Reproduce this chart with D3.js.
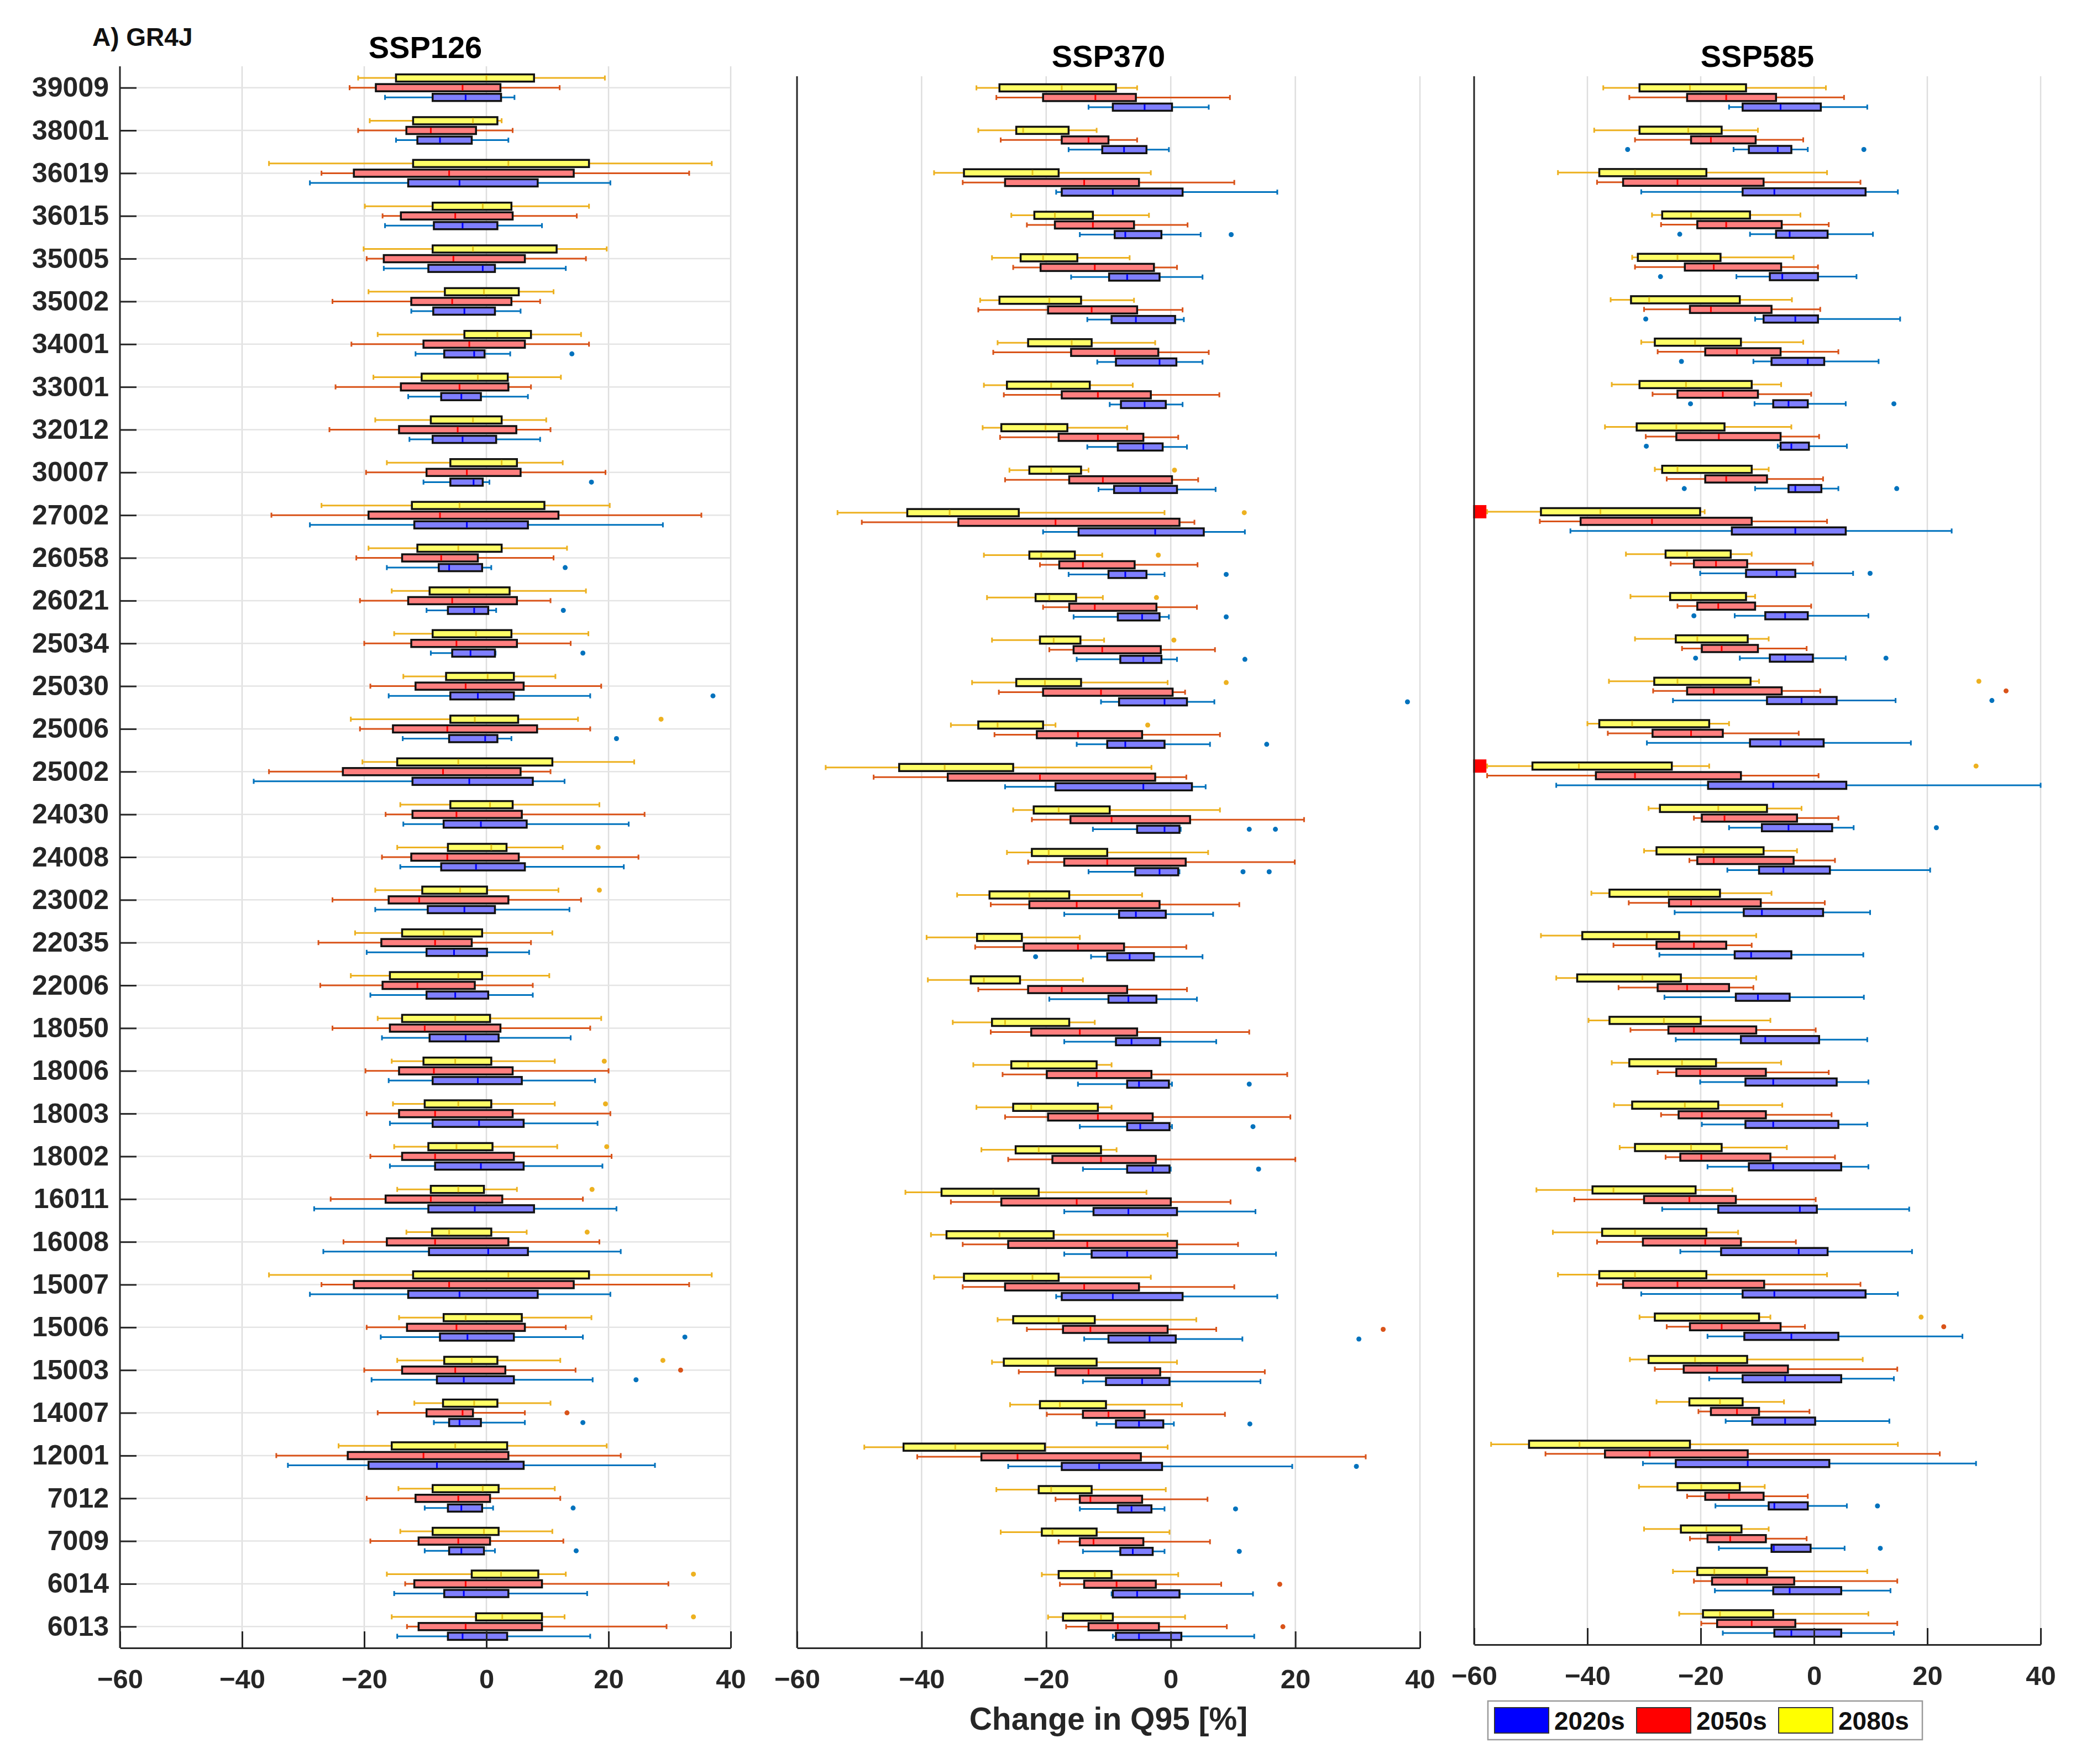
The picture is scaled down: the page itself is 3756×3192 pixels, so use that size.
<!DOCTYPE html>
<html><head><meta charset="utf-8">
<script src="https://cdn.jsdelivr.net/npm/d3@7"></script>
<style>body{margin:0;background:#fff}svg{display:block}</style>
</head><body>
<svg id="c" width="3756" height="3192"></svg>
<script>
// ---------- DATA ----------
const stations = ["39009","38001","36019","36015","35005","35002","34001","33001","32012","30007","27002","26058","26021","25034","25030","25006","25002","24030","24008","23002","22035","22006","18050","18006","18003","18002","16011","16008","15007","15006","15003","14007","12001","7012","7009","6014","6013"];
const periods = ["2080s","2050s","2020s"]; // top -> bottom inside each station row
const scenarios = ["SSP126","SSP370","SSP585"];
const xTicks = [-60,-40,-20,0,20,40];
// each entry: [lower whisker, Q1, median, Q3, upper whisker]
const ssp126_2080s = [[-21.0,-14.8,0.0,7.8,19.4],[-19.1,-12.0,-2.2,1.8,2.5],[-35.6,-12.0,3.6,16.8,36.9],[-19.9,-8.8,-0.6,4.1,16.8],[-20.1,-8.8,-2.2,11.5,19.7],[-19.3,-6.8,-0.4,5.3,11.0],[-17.8,-3.6,1.8,7.3,15.5],[-18.5,-10.6,-1.4,3.5,12.2],[-18.2,-9.1,-2.2,2.5,9.8],[-16.3,-5.9,2.5,5.0,12.5],[-27.0,-12.2,-4.4,9.5,20.2],[-19.3,-11.3,-4.6,2.5,13.2],[-15.5,-9.3,-2.8,3.8,16.3],[-15.1,-8.8,-1.7,4.1,16.7],[-13.6,-6.6,0.2,4.5,11.3],[-22.2,-5.9,-1.9,5.2,15.0],[-20.3,-14.6,-4.6,10.8,24.2],[-14.1,-5.9,0.6,4.3,18.5],[-14.6,-6.3,0.8,3.3,12.5],[-18.2,-10.5,-4.3,0.1,11.8],[-21.5,-13.8,-7.0,-0.7,10.8],[-22.2,-15.8,-4.6,-0.7,10.3],[-17.8,-13.8,-5.1,0.6,18.8],[-15.5,-10.3,-5.1,0.8,11.2],[-15.3,-10.1,-4.6,0.8,11.2],[-15.1,-9.5,-4.9,1.0,11.6],[-14.6,-9.1,-4.6,-0.4,5.0],[-13.1,-8.9,-6.1,0.8,6.6],[-35.6,-12.0,3.6,16.8,36.9],[-14.3,-7.0,-3.4,5.8,17.2],[-14.6,-6.9,-2.4,1.8,12.1],[-11.8,-7.1,-2.0,1.8,10.5],[-24.2,-15.5,-5.1,3.4,19.7],[-14.4,-8.8,-0.6,2.0,11.2],[-14.1,-8.8,-0.4,2.0,10.8],[-16.3,-2.4,2.4,8.5,13.0],[-15.5,-1.7,2.6,9.1,12.8]];
const ssp126_2050s = [[-22.4,-18.1,-3.9,2.3,12.0],[-21.0,-13.1,-9.1,-1.7,4.3],[-27.0,-21.7,-6.1,14.3,33.2],[-17.0,-14.0,-5.1,4.3,14.8],[-19.6,-16.8,-5.4,6.3,16.3],[-25.2,-12.3,-5.6,4.1,8.8],[-22.1,-10.3,-2.8,6.3,16.8],[-24.7,-14.0,-4.4,3.6,7.3],[-25.7,-14.3,-4.7,4.9,10.5],[-19.7,-9.8,-3.2,5.6,19.5],[-35.2,-19.3,-7.6,11.8,35.2],[-21.3,-13.8,-7.4,-1.4,11.0],[-20.7,-12.8,-5.6,5.0,10.5],[-20.0,-12.3,-4.9,5.0,13.8],[-19.0,-11.6,-3.4,6.1,18.8],[-20.7,-15.3,-6.4,8.3,17.0],[-35.6,-23.5,-7.1,5.6,10.5],[-16.5,-12.1,-4.9,5.8,25.9],[-17.1,-12.3,-6.4,5.3,24.9],[-25.2,-16.0,-11.0,3.6,15.5],[-27.5,-17.2,-8.4,-2.4,7.3],[-27.2,-17.0,-11.3,-1.9,7.6],[-25.2,-15.8,-10.1,2.3,17.0],[-19.8,-14.3,-8.6,4.3,20.0],[-19.6,-14.3,-8.4,4.3,20.3],[-19.0,-13.8,-8.4,4.5,20.5],[-25.5,-16.5,-9.1,2.6,15.8],[-23.4,-16.3,-8.4,3.6,18.5],[-27.0,-21.7,-6.1,14.3,33.2],[-19.6,-13.0,-4.9,6.3,13.0],[-20.0,-13.8,-5.1,3.1,14.6],[-17.8,-9.8,-3.9,-2.2,6.3],[-34.4,-22.7,-10.3,3.6,22.0],[-19.6,-11.6,-4.6,0.6,12.1],[-19.0,-11.1,-4.6,0.6,12.6],[-13.3,-11.8,-3.4,9.1,29.8],[-13.0,-11.1,-3.4,9.1,29.5]];
const ssp126_2020s = [[-16.6,-8.8,-3.4,2.4,4.6],[-14.8,-11.3,-7.6,-2.4,3.6],[-28.9,-12.8,-4.4,8.4,20.3],[-16.6,-8.6,-3.9,1.8,9.1],[-16.8,-9.5,-0.6,1.4,13.0],[-12.3,-8.7,-3.6,1.4,5.6],[-11.6,-6.9,-2.0,-0.3,3.9],[-12.8,-7.4,-4.1,-0.9,6.8],[-12.6,-8.8,-3.9,1.6,8.8],[-10.3,-5.9,-2.1,-0.6,0.5],[-28.9,-11.8,-3.2,6.8,28.9],[-16.3,-7.8,-6.1,-0.7,0.8],[-9.8,-6.3,-2.0,0.3,1.6],[-9.1,-5.6,-2.6,1.4,1.5],[-16.0,-5.9,-1.4,4.5,17.0],[-13.7,-6.1,-0.2,1.8,4.1],[-38.1,-12.1,-2.8,7.6,12.8],[-13.6,-7.0,-0.9,6.6,23.3],[-14.1,-7.4,-1.7,6.3,22.5],[-18.2,-9.6,-3.6,1.4,13.6],[-19.6,-9.8,-5.3,0.1,7.0],[-19.0,-9.8,-5.1,0.3,7.6],[-17.1,-9.3,-3.4,2.0,13.8],[-16.0,-8.8,-1.4,5.8,17.8],[-15.8,-8.8,-1.2,6.1,18.2],[-15.8,-8.4,-0.9,6.1,19.0],[-28.2,-9.5,-1.9,7.8,21.3],[-26.7,-9.4,0.3,6.8,22.0],[-28.9,-12.8,-4.4,8.4,20.3],[-17.3,-7.6,-3.1,4.5,15.8],[-18.8,-8.1,-3.7,4.5,17.4],[-8.6,-6.1,-4.4,-0.9,6.3],[-32.5,-19.3,-8.1,6.1,27.6],[-10.1,-6.3,-4.1,-0.7,1.1],[-10.1,-6.1,-4.1,-0.4,1.4],[-15.1,-6.9,-3.7,3.6,16.5],[-14.6,-6.3,-3.9,3.4,17.0]];
const ssp370_2080s = [[-31.2,-27.5,-17.5,-8.8,-5.4],[-30.9,-24.8,-23.7,-16.4,-11.9],[-38.0,-33.2,-22.2,-18.0,-3.2],[-25.6,-21.9,-18.6,-12.5,-3.5],[-28.7,-24.1,-20.5,-15.0,-6.6],[-30.6,-27.5,-19.5,-14.4,-5.9],[-27.8,-22.9,-15.9,-12.7,-2.5],[-30.0,-26.3,-19.2,-13.0,-6.1],[-30.2,-27.2,-20.1,-16.6,-7.0],[-25.9,-22.7,-19.2,-14.4,-13.2],[-53.5,-42.3,-35.5,-24.4,-1.0],[-30.0,-22.7,-20.8,-15.4,-11.0],[-29.5,-21.7,-19.5,-15.2,-10.9],[-28.7,-21.0,-18.8,-14.5,-10.7],[-31.9,-24.8,-20.2,-14.4,-0.5],[-35.3,-30.9,-27.8,-20.5,-18.5],[-55.4,-43.6,-36.3,-25.3,-3.1],[-25.3,-22.0,-18.0,-9.8,7.9],[-26.3,-22.3,-19.6,-10.2,6.0],[-34.3,-29.1,-22.7,-16.3,-4.6],[-39.2,-31.1,-30.0,-23.9,-14.6],[-39.0,-32.1,-30.0,-24.2,-14.1],[-35.0,-28.7,-26.6,-16.3,-12.2],[-31.7,-25.6,-22.9,-11.9,-9.5],[-31.2,-25.3,-22.4,-11.7,-9.5],[-30.4,-24.9,-21.2,-11.2,-8.7],[-42.6,-36.8,-28.5,-21.2,-3.9],[-38.5,-36.0,-27.5,-18.8,-0.5],[-38.0,-33.2,-22.2,-18.0,-3.2],[-27.8,-25.3,-18.0,-12.2,4.1],[-28.7,-26.8,-19.7,-11.9,1.0],[-25.8,-21.0,-17.8,-10.4,1.8],[-49.2,-42.9,-34.6,-20.2,-0.5],[-28.0,-21.2,-19.2,-12.7,-0.8],[-27.3,-20.7,-19.0,-11.9,-0.2],[-20.7,-18.0,-12.2,-9.5,1.2],[-19.7,-17.3,-11.2,-9.3,2.3]];
const ssp370_2050s = [[-28.0,-20.5,-12.1,-5.6,9.5],[-27.3,-17.5,-13.2,-10.0,-5.4],[-33.4,-26.6,-13.9,-5.1,10.2],[-23.1,-18.6,-12.5,-5.9,2.7],[-25.3,-20.9,-12.2,-2.7,1.0],[-30.9,-19.7,-12.7,-5.4,1.9],[-28.5,-16.0,-9.0,-2.0,6.1],[-26.8,-17.5,-11.7,-3.2,7.8],[-27.4,-18.0,-11.7,-4.4,1.2],[-26.6,-16.3,-10.9,0.2,4.4],[-49.6,-34.1,-18.5,1.4,3.8],[-21.0,-17.9,-14.1,-5.8,4.3],[-20.5,-16.3,-12.2,-2.3,4.2],[-19.5,-15.6,-11.0,-1.6,7.1],[-27.6,-20.5,-11.2,0.3,2.3],[-28.3,-21.5,-14.9,-4.6,7.9],[-47.7,-35.8,-21.0,-2.5,2.5],[-22.3,-16.1,-9.5,3.1,21.4],[-22.9,-17.1,-10.2,2.4,19.9],[-28.9,-22.7,-15.1,-1.8,11.0],[-31.4,-23.6,-14.9,-7.5,2.5],[-30.9,-22.9,-17.5,-7.0,2.6],[-28.9,-22.4,-14.6,-5.4,12.6],[-27.0,-19.9,-11.9,-3.1,18.7],[-26.6,-19.7,-11.7,-2.9,19.2],[-26.1,-19.0,-11.2,-2.4,20.0],[-35.3,-27.2,-15.1,0.0,9.6],[-33.4,-26.1,-13.4,1.0,10.8],[-33.4,-26.6,-13.9,-5.1,10.2],[-23.1,-17.3,-12.9,-0.5,7.3],[-24.4,-18.5,-13.2,-1.7,15.1],[-19.9,-14.1,-10.0,-4.2,8.7],[-40.7,-30.4,-24.6,-4.8,31.3],[-18.5,-14.6,-12.9,-4.6,5.9],[-18.0,-14.6,-12.4,-4.4,6.3],[-17.8,-13.9,-8.7,-2.4,8.1],[-16.8,-13.2,-8.5,-1.9,9.0]];
const ssp370_2020s = [[-13.2,-9.3,-4.2,0.2,6.1],[-16.4,-11.0,-7.5,-3.9,-0.3],[-18.4,-17.5,-9.3,1.9,17.1],[-14.6,-9.0,-7.3,-1.5,4.8],[-16.0,-9.9,-7.0,-1.8,5.1],[-13.4,-9.5,-5.6,0.7,2.1],[-11.8,-8.8,-1.8,0.9,5.1],[-9.8,-8.0,-4.2,-0.8,1.9],[-13.4,-8.5,-4.4,-1.3,2.6],[-11.6,-9.1,-4.9,1.0,7.2],[-20.5,-14.8,-2.5,5.3,11.9],[-16.4,-10.0,-7.3,-3.9,-1.0],[-15.6,-8.5,-4.6,-1.8,-0.3],[-15.1,-8.1,-4.4,-1.5,1.0],[-11.2,-8.3,-1.0,2.6,7.0],[-15.1,-10.2,-7.3,-1.0,6.3],[-26.6,-18.5,-4.4,3.4,5.6],[-12.5,-5.4,-1.0,1.4,1.6],[-13.2,-5.7,-1.8,1.2,1.4],[-17.1,-8.3,-5.6,-0.8,6.8],[-12.8,-10.2,-6.6,-2.7,5.1],[-19.5,-10.0,-6.8,-2.3,4.2],[-17.1,-8.8,-6.3,-1.7,7.3],[-14.9,-7.0,-5.1,-0.3,0.2],[-14.6,-7.0,-4.9,-0.2,0.2],[-14.1,-7.0,-2.9,-0.2,0.0],[-17.1,-12.4,-6.8,1.0,13.6],[-17.1,-12.7,-7.0,1.0,16.9],[-18.4,-17.5,-9.3,1.9,17.1],[-13.9,-10.0,-3.4,0.8,11.5],[-14.1,-10.4,-4.6,-0.2,14.4],[-11.9,-8.8,-5.1,-1.2,0.5],[-26.1,-17.5,-11.5,-1.4,19.5],[-14.6,-8.5,-6.3,-3.1,-1.0],[-14.1,-8.1,-6.1,-2.9,-1.0],[-9.5,-9.3,-5.4,1.4,13.2],[-9.3,-8.8,-5.1,1.7,13.4]];
const ssp585_2080s = [[-37.2,-30.8,-21.9,-12.0,2.1],[-38.8,-30.8,-22.2,-16.3,-9.9],[-45.2,-37.9,-31.6,-19.0,2.3],[-28.6,-26.8,-21.7,-11.3,-2.4],[-32.1,-31.1,-24.1,-16.5,-3.6],[-35.9,-32.3,-29.1,-13.1,-3.9],[-30.5,-28.1,-21.0,-12.9,-1.9],[-35.7,-30.8,-22.6,-11.0,-5.8],[-36.9,-31.3,-24.3,-15.8,-4.0],[-28.1,-26.8,-24.1,-11.0,-8.0],[-57.7,-48.2,-37.7,-20.1,-19.3],[-33.2,-26.2,-22.4,-14.7,-11.0],[-32.4,-25.4,-21.7,-12.0,-10.4],[-31.6,-24.4,-20.6,-11.7,-8.0],[-36.2,-28.2,-24.1,-11.2,-9.7],[-40.0,-37.9,-32.1,-18.5,-15.0],[-57.7,-49.7,-41.5,-25.1,-18.5],[-29.2,-27.2,-16.9,-8.3,-2.2],[-30.0,-27.8,-19.5,-8.9,-3.0],[-39.3,-36.1,-25.7,-16.6,-7.5],[-48.2,-40.9,-29.5,-23.8,-10.2],[-45.5,-41.8,-30.3,-23.5,-10.2],[-39.8,-36.1,-26.5,-20.0,-7.7],[-35.7,-32.6,-23.3,-17.3,-5.8],[-35.3,-32.1,-22.8,-16.9,-5.6],[-34.3,-31.6,-21.7,-16.3,-4.8],[-49.0,-39.1,-35.4,-20.9,-14.4],[-46.1,-37.4,-31.6,-19.0,-13.4],[-45.2,-37.9,-31.6,-19.0,2.3],[-30.8,-28.1,-20.1,-9.7,-7.7],[-32.5,-29.2,-21.0,-11.8,8.6],[-27.8,-22.0,-16.6,-12.6,-5.3],[-57.0,-50.3,-41.4,-21.9,14.8],[-30.9,-24.1,-19.9,-13.1,-8.7],[-30.0,-23.5,-19.0,-12.8,-8.0],[-24.9,-20.6,-17.6,-8.3,9.4],[-23.8,-19.6,-16.6,-7.2,9.6]];
const ssp585_2050s = [[-32.6,-22.4,-15.5,-6.7,5.3],[-31.6,-21.7,-18.2,-10.3,-1.9],[-38.3,-33.7,-24.1,-8.9,8.2],[-27.0,-20.6,-15.5,-5.7,2.6],[-31.6,-22.8,-17.7,-5.8,0.7],[-30.0,-21.9,-18.2,-7.5,1.1],[-27.6,-19.2,-13.6,-5.9,4.3],[-28.5,-24.1,-16.1,-9.9,-0.5],[-29.7,-24.3,-16.8,-5.9,0.9],[-26.0,-19.2,-15.5,-8.3,1.6],[-48.4,-41.2,-28.6,-11.0,2.3],[-25.3,-21.2,-17.3,-11.8,-0.2],[-24.1,-20.6,-16.9,-10.4,-0.5],[-23.3,-19.8,-16.3,-9.9,-1.3],[-28.4,-22.4,-17.7,-5.7,1.1],[-36.4,-28.5,-21.7,-16.1,-2.7],[-57.7,-38.5,-31.6,-12.9,0.8],[-21.2,-19.8,-15.8,-3.0,4.3],[-22.0,-20.6,-17.7,-3.6,3.7],[-32.7,-25.6,-21.7,-9.4,1.9],[-35.4,-27.8,-21.2,-15.5,-11.0],[-34.5,-27.6,-22.4,-15.0,-10.7],[-32.4,-25.7,-21.2,-10.2,0.3],[-27.6,-24.3,-20.1,-8.5,2.6],[-27.0,-23.9,-19.8,-8.5,3.1],[-26.2,-23.6,-19.9,-7.7,3.7],[-42.3,-30.0,-22.0,-13.8,0.3],[-38.3,-30.2,-19.2,-12.9,-3.2],[-38.3,-33.7,-24.1,-8.8,8.2],[-26.0,-21.9,-16.3,-5.9,-1.6],[-28.1,-23.0,-17.1,-4.6,14.7],[-20.4,-18.2,-13.6,-9.7,-0.8],[-47.4,-36.9,-29.0,-11.7,22.2],[-22.4,-19.2,-15.0,-8.9,-1.1],[-21.9,-18.8,-14.8,-8.5,-1.3],[-21.2,-18.0,-11.8,-3.5,14.7],[-19.9,-17.1,-11.0,-3.3,14.7]];
const ssp585_2020s = [[-15.0,-12.6,-5.9,1.2,9.4],[-14.2,-11.5,-6.4,-4.0,-1.1],[-30.5,-12.6,-7.0,9.1,14.8],[-11.3,-6.7,-4.3,2.4,10.4],[-13.7,-7.8,-5.6,0.7,7.5],[-10.4,-8.9,-3.3,0.7,15.2],[-10.7,-7.5,-1.1,1.8,11.4],[-10.5,-7.2,-4.5,-1.1,5.6],[-6.4,-5.9,-4.0,-0.9,5.8],[-10.4,-4.5,-3.3,1.3,4.3],[-43.0,-14.5,-3.3,5.6,24.3],[-20.1,-12.0,-6.6,-3.3,6.9],[-14.0,-8.6,-5.1,-1.1,9.6],[-13.1,-7.8,-5.1,-0.2,5.6],[-24.9,-8.3,-2.2,4.0,14.4],[-29.5,-11.3,-5.9,1.7,17.1],[-45.5,-18.7,-7.2,5.7,40.0],[-15.0,-9.2,-4.5,3.2,7.0],[-15.3,-9.7,-5.4,2.8,20.5],[-24.6,-12.4,-9.2,1.6,9.9],[-27.3,-14.0,-11.1,-4.0,8.7],[-26.4,-13.8,-9.9,-4.3,8.8],[-24.4,-12.9,-8.6,0.9,9.4],[-20.1,-12.1,-7.2,4.0,9.6],[-19.8,-12.1,-7.2,4.3,9.4],[-18.8,-11.5,-7.2,4.8,9.6],[-26.8,-16.9,-2.5,0.5,16.8],[-23.6,-16.4,-2.7,2.4,17.3],[-30.5,-12.6,-7.0,9.1,14.8],[-18.8,-12.3,-4.0,4.3,26.2],[-18.5,-12.6,-5.1,4.8,14.1],[-15.6,-10.9,-5.1,0.2,13.3],[-30.2,-24.4,-11.7,2.7,28.6],[-17.4,-8.0,-7.0,-1.1,5.8],[-16.8,-7.5,-7.1,-0.6,5.4],[-17.5,-7.2,-4.3,4.8,13.5],[-16.1,-7.0,-4.0,4.8,14.1]];
// outliers: [station, period, value]
const ssp126_outliers = [["34001","2020s",14.0],["30007","2020s",17.2],["26058","2020s",12.9],["26021","2020s",12.6],["25034","2020s",15.8],["25030","2020s",37.1],["25006","2020s",21.3],["15006","2020s",32.5],["15003","2020s",24.5],["14007","2020s",15.8],["7012","2020s",14.2],["7009","2020s",14.7],["15003","2050s",31.8],["14007","2050s",13.2],["25006","2080s",28.6],["24008","2080s",18.3],["23002","2080s",18.5],["18006","2080s",19.3],["18003","2080s",19.5],["18002","2080s",19.7],["16011","2080s",17.3],["16008","2080s",16.5],["15003","2080s",28.9],["6014","2080s",33.9],["6013","2080s",33.9]];
const ssp370_outliers = [["30007","2080s",0.6],["27002","2080s",11.8],["26058","2080s",-2.0],["26021","2080s",-2.3],["25034","2080s",0.5],["25030","2080s",8.9],["25006","2080s",-3.7],["15006","2050s",34.1],["6014","2050s",17.5],["6013","2050s",18.0],["36015","2020s",9.7],["26058","2020s",8.9],["26021","2020s",8.9],["25034","2020s",11.9],["25030","2020s",38.0],["25006","2020s",15.4],["24030","2020s",12.6],["24030","2020s",16.8],["24008","2020s",11.6],["24008","2020s",15.8],["22035","2020s",-21.7],["18006","2020s",12.6],["18003","2020s",13.2],["18002","2020s",14.1],["15006","2020s",30.2],["14007","2020s",12.7],["12001","2020s",29.8],["7012","2020s",10.4],["7009","2020s",11.0]];
const ssp585_outliers = [["38001","2020s",-32.9],["38001","2020s",8.8],["36015","2020s",-23.7],["35005","2020s",-27.1],["35002","2020s",-29.7],["34001","2020s",-23.4],["33001","2020s",-21.8],["33001","2020s",14.1],["32012","2020s",-29.6],["30007","2020s",-22.9],["30007","2020s",14.6],["26058","2020s",9.9],["26021","2020s",-21.2],["25034","2020s",-20.9],["25034","2020s",12.7],["25030","2020s",31.4],["24030","2020s",21.6],["7012","2020s",11.2],["7009","2020s",11.7],["25030","2050s",33.9],["15006","2050s",22.9],["25030","2080s",29.1],["25002","2080s",28.6],["15006","2080s",18.9]];
// values beyond the axis limit, flagged with a red square
const ssp585_offscale = [["27002","2080s",-59.0],["25002","2080s",-59.0]];
const legendLabels = ["2020s","2050s","2080s"];

// ---------- LAYOUT / STYLE ----------
const FONT = "'Liberation Sans', Arial, Helvetica, sans-serif";
const style = {
  "2080s": {off:-1, fill:"#ffff66", whisk:"#EDB120", med:"#e3c21a", solid:"#ffff00"},
  "2050s": {off: 0, fill:"#ff7f7f", whisk:"#D95319", med:"#ff0000", solid:"#ff0000"},
  "2020s": {off: 1, fill:"#7f7fff", whisk:"#0072BD", med:"#0000ff", solid:"#0000ff"}
};
const panels = [
  {name:"SSP126", x0:217, x1:1322, top:120, bottom:2982, titleY:105, yAxis:true,
   data:{"2080s":ssp126_2080s,"2050s":ssp126_2050s,"2020s":ssp126_2020s}, out:ssp126_outliers, off:[]},
  {name:"SSP370", x0:1442, x1:2569, top:138, bottom:2982, titleY:121, yAxis:false,
   data:{"2080s":ssp370_2080s,"2050s":ssp370_2050s,"2020s":ssp370_2020s}, out:ssp370_outliers, off:[]},
  {name:"SSP585", x0:2667, x1:3692, top:138, bottom:2976, titleY:121, yAxis:false,
   data:{"2080s":ssp585_2080s,"2050s":ssp585_2050s,"2020s":ssp585_2020s}, out:ssp585_outliers, off:ssp585_offscale}
];

const svg = d3.select("#c");
svg.append("rect").attr("width",3756).attr("height",3192).attr("fill","#fff");

panels.forEach(p => {
  const x = d3.scaleLinear().domain([-60,40]).range([p.x0,p.x1]);
  const y = d3.scaleBand().domain(stations).range([p.top,p.bottom]).padding(0);
  const bw = y.bandwidth();
  const yc = (s, per) => y(s) + bw/2 + style[per].off * bw * 0.227;
  const g = svg.append("g");

  // vertical grid
  g.selectAll(".vg").data(xTicks.filter(t=>t>-60)).join("line")
    .attr("x1",d=>x(d)).attr("x2",d=>x(d)).attr("y1",p.top).attr("y2",p.bottom)
    .attr("stroke","#dedede").attr("stroke-width",2.5);
  // horizontal grid in first panel
  if (p.yAxis) {
    g.selectAll(".hg").data(stations).join("line")
      .attr("x1",p.x0).attr("x2",p.x1).attr("y1",d=>y(d)+bw/2).attr("y2",d=>y(d)+bw/2)
      .attr("stroke","#e4e4e4").attr("stroke-width",2.5);
  }

  const hb = 6.5;
  stations.forEach((s,i) => {
    periods.forEach(per => {
      const v = p.data[per][i];
      const st = style[per];
      const cy = yc(s,per);
      const bg = g.append("g");
      // whiskers
      bg.append("line").attr("x1",x(v[0])).attr("x2",x(v[1])).attr("y1",cy).attr("y2",cy)
        .attr("stroke",st.whisk).attr("stroke-width",3);
      bg.append("line").attr("x1",x(v[3])).attr("x2",x(v[4])).attr("y1",cy).attr("y2",cy)
        .attr("stroke",st.whisk).attr("stroke-width",3);
      [v[0],v[4]].forEach(w => bg.append("line").attr("x1",x(w)).attr("x2",x(w))
        .attr("y1",cy-4.5).attr("y2",cy+4.5).attr("stroke",st.whisk).attr("stroke-width",3));
      // box
      bg.append("rect").attr("x",x(v[1])).attr("width",x(v[3])-x(v[1]))
        .attr("y",cy-hb).attr("height",2*hb).attr("fill",st.fill)
        .attr("stroke","#111").attr("stroke-width",3.5);
      // median
      bg.append("line").attr("x1",x(v[2])).attr("x2",x(v[2])).attr("y1",cy-hb+1.5).attr("y2",cy+hb-1.5)
        .attr("stroke",st.med).attr("stroke-width",3);
    });
  });
  // outliers
  g.selectAll(".out").data(p.out).join("circle")
    .attr("cx",d=>x(d[2])).attr("cy",d=>yc(d[0],d[1])).attr("r",4.5)
    .attr("fill",d=>style[d[1]].whisk);
  g.selectAll(".offs").data(p.off).join("rect")
    .attr("x",d=>x(d[2])-12).attr("y",d=>yc(d[0],d[1])-12).attr("width",24).attr("height",24)
    .attr("fill","#ff0000");

  // x axis
  const xa = svg.append("g").attr("transform",`translate(0,${p.bottom})`)
    .call(d3.axisBottom(x).tickValues(xTicks).tickSize(-30).tickSizeOuter(0).tickPadding(38).tickFormat(d3.format("d")));
  xa.select(".domain").attr("stroke","#262626").attr("stroke-width",3);
  xa.selectAll(".tick line").attr("stroke","#262626").attr("stroke-width",3);
  xa.selectAll("text").attr("font-family",FONT).attr("font-weight","bold").attr("font-size",49)
    .attr("fill","#262626");

  // y axis
  if (p.yAxis) {
    const ya = svg.append("g").attr("transform",`translate(${p.x0},0)`)
      .call(d3.axisLeft(d3.scalePoint().domain(stations).range([p.top+bw/2,p.bottom-bw/2]))
        .tickSize(-30).tickSizeOuter(0).tickPadding(20));
    ya.select(".domain").remove();
    ya.selectAll(".tick line").attr("stroke","#262626").attr("stroke-width",3);
    ya.selectAll("text").attr("font-family",FONT).attr("font-weight","bold").attr("font-size",50)
      .attr("fill","#262626");
  }
  svg.append("line").attr("x1",p.x0).attr("x2",p.x0).attr("y1",p.top).attr("y2",p.bottom)
    .attr("stroke","#262626").attr("stroke-width",3);

  // title
  svg.append("text").attr("x",(p.x0+p.x1)/2).attr("y",p.titleY).attr("text-anchor","middle")
    .attr("font-family",FONT).attr("font-weight","bold").attr("font-size",56).attr("fill","#000")
    .text(p.name);
});

svg.append("text").attr("x",167).attr("y",83).attr("font-family",FONT).attr("font-weight","bold")
  .attr("font-size",46).attr("fill","#111").text("A) GR4J");

svg.append("text").attr("x",(panels[1].x0+panels[1].x1)/2).attr("y",3130).attr("text-anchor","middle")
  .attr("font-family",FONT).attr("font-weight","bold").attr("font-size",57).attr("fill","#262626")
  .text("Change in Q95 [%]");

// legend
const lg = svg.append("g").attr("transform","translate(2692,3078)");
lg.append("rect").attr("width",786).attr("height",70).attr("fill","#fff").attr("stroke","#9a9a9a").attr("stroke-width",2.5);
const legPer = ["2020s","2050s","2080s"];
legendLabels.forEach((lab,i) => {
  const ox = 12 + i*257;
  lg.append("rect").attr("x",ox).attr("y",12).attr("width",98).attr("height",46)
    .attr("fill",style[legPer[i]].solid).attr("stroke","#333").attr("stroke-width",2);
  lg.append("text").attr("x",ox+108).attr("y",52).attr("font-family",FONT).attr("font-weight","bold")
    .attr("font-size",46).attr("fill","#111").text(lab);
});
</script>
</body></html>
